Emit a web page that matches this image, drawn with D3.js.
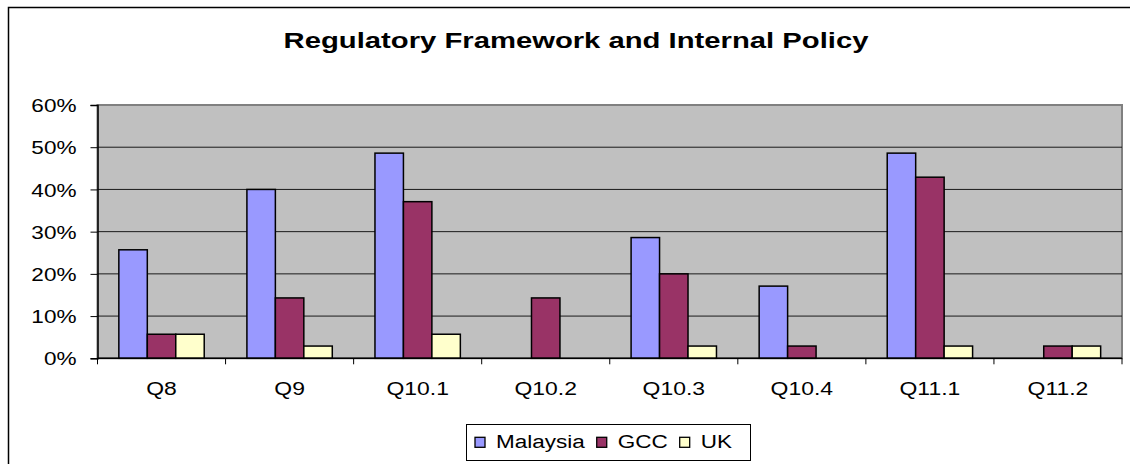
<!DOCTYPE html>
<html>
<head>
<meta charset="utf-8">
<script src="https://cdn.jsdelivr.net/npm/d3@7"></script>
<style>
  body { margin: 0; background: #fff; }
  svg { display: block; }
  text { font-family: "Liberation Sans", Arial, sans-serif; fill: #000; }
</style>
</head>
<body>
<svg id="chart" width="1130" height="464"></svg>
<script>
// chart data
const categories = ["Q8", "Q9", "Q10.1", "Q10.2", "Q10.3", "Q10.4", "Q11.1", "Q11.2"];
const seriesNames = ["Malaysia", "GCC", "UK"];
const malaysia = [0.257, 0.400, 0.486, 0.000, 0.286, 0.171, 0.486, 0.000];
const gcc      = [0.057, 0.143, 0.371, 0.143, 0.200, 0.029, 0.429, 0.029];
const uk       = [0.057, 0.029, 0.057, 0.000, 0.029, 0.000, 0.029, 0.029];
const yTicks = [0, 0.1, 0.2, 0.3, 0.4, 0.5, 0.6];
const colors = ["#9999ff", "#993366", "#ffffcc"];

const seriesValues = [malaysia, gcc, uk];
const table = categories.map((c, i) => ({
    category: c,
    values: seriesNames.map((s, j) => ({ series: s, value: seriesValues[j][i] }))
}));

const svg = d3.select("#chart");

// text in the source is drawn wider than its height suggests
const STRETCH = 1.22;

// outer frame (runs off the right and bottom edge)
svg.append("rect")
    .attr("x", 8.5).attr("y", 7.5)
    .attr("width", 1140).attr("height", 480)
    .attr("fill", "#fff")
    .attr("stroke", "#000")
    .attr("stroke-width", 1.5);

const plot = { left: 97.5, right: 1122, top: 105, bottom: 358.3 };

const x = d3.scaleBand()
    .domain(categories)
    .range([plot.left, plot.right])
    .padding(0);

const xInner = d3.scaleBand()
    .domain(seriesNames)
    .range([0, x.bandwidth()])
    .paddingInner(0)
    .paddingOuter(0.75);

const y = d3.scaleLinear()
    .domain([0, 0.6])
    .range([plot.bottom, plot.top]);

const color = d3.scaleOrdinal().domain(seriesNames).range(colors);

// plot background
svg.append("rect")
    .attr("x", plot.left).attr("y", plot.top)
    .attr("width", plot.right - plot.left)
    .attr("height", plot.bottom - plot.top)
    .attr("fill", "#c0c0c0")
    .attr("stroke", "#808080")
    .attr("stroke-width", 2);

// gridlines
svg.append("g")
    .selectAll("line")
    .data(yTicks.filter(t => t > 0 && t < 0.6))
    .join("line")
    .attr("x1", plot.left).attr("x2", plot.right)
    .attr("y1", d => y(d)).attr("y2", d => y(d))
    .attr("stroke", "#1a1a1a")
    .attr("stroke-width", 1);

// bars
const groups = svg.append("g")
    .selectAll("g")
    .data(table)
    .join("g")
    .attr("transform", d => `translate(${x(d.category)},0)`);

groups.selectAll("rect")
    .data(d => d.values.filter(v => v.value > 0))
    .join("rect")
    .attr("x", d => xInner(d.series))
    .attr("y", d => y(d.value))
    .attr("width", xInner.bandwidth())
    .attr("height", d => y(0) - y(d.value))
    .attr("fill", d => color(d.series))
    .attr("stroke", "#000")
    .attr("stroke-width", 1.5);

// y axis
const yAxis = svg.append("g")
    .attr("transform", `translate(${plot.left},0)`)
    .call(d3.axisLeft(y).tickValues(yTicks).tickSize(7).tickPadding(0).tickFormat(d3.format(".0%")));
yAxis.select(".domain").attr("stroke", "#000").attr("stroke-width", 1.5);
yAxis.selectAll(".tick line").attr("stroke", "#000");
yAxis.selectAll(".tick text")
    .attr("font-size", 18.5)
    .attr("x", null).attr("dy", null)
    .attr("text-anchor", "end")
    .attr("transform", `translate(-21,6.6) scale(${STRETCH},1)`);

// x axis with ticks between categories
const xAxis = svg.append("g")
    .attr("transform", `translate(0,${plot.bottom})`);
xAxis.append("line")
    .attr("x1", plot.left).attr("x2", plot.right)
    .attr("stroke", "#000").attr("stroke-width", 1.5);
xAxis.selectAll(".sep")
    .data(categories.map(c => x(c)).concat([plot.right]))
    .join("line")
    .attr("class", "sep")
    .attr("x1", d => d).attr("x2", d => d)
    .attr("y1", 0).attr("y2", 6)
    .attr("stroke", "#000");
xAxis.selectAll("text")
    .data(categories)
    .join("text")
    .attr("font-size", 18.5)
    .attr("text-anchor", "middle")
    .attr("transform", d => `translate(${x(d) + x.bandwidth() / 2},37) scale(1.24,1)`)
    .text(d => d);

// title
svg.append("text")
    .attr("font-size", 22.5)
    .attr("font-weight", "bold")
    .attr("text-anchor", "middle")
    .attr("transform", `translate(576,48.3) scale(1.3,1)`)
    .text("Regulatory Framework and Internal Policy");

// legend
const legend = svg.append("g");
legend.append("rect")
    .attr("x", 466.5).attr("y", 424.5)
    .attr("width", 284).attr("height", 36)
    .attr("fill", "#fff")
    .attr("stroke", "#000")
    .attr("stroke-width", 1);

let lx = 475;
seriesNames.forEach((s, i) => {
    legend.append("rect")
        .attr("x", lx).attr("y", 437.3)
        .attr("width", 10).attr("height", 10)
        .attr("fill", color(s))
        .attr("stroke", "#000")
        .attr("stroke-width", 1.3);
    const t = legend.append("text")
        .attr("font-size", 18)
        .attr("transform", `translate(${lx + 21},448.3) scale(1.25,1)`)
        .text(s);
    lx += 21 + t.node().getComputedTextLength() * 1.25 + 12;
});
</script>
</body>
</html>
